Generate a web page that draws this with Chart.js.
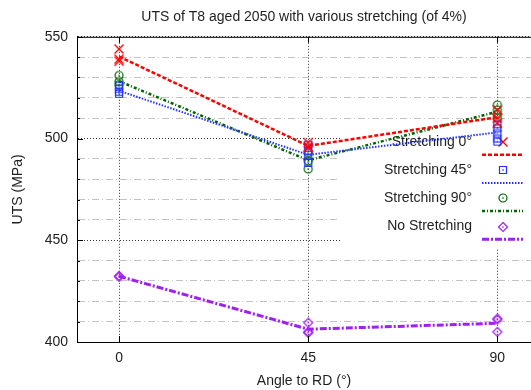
<!DOCTYPE html>
<html>
<head>
<meta charset="utf-8">
<title>UTS of T8 aged 2050</title>
<script src="https://cdn.jsdelivr.net/npm/chart.js@4.4.1/dist/chart.umd.min.js"></script>
<style>
    body { margin: 0; background: #fff; }
    #chart { display: block; }
</style>
</head>
<body>
<canvas id="chart" width="531" height="390"></canvas>
<script>
// Angles to RD (deg)
const angles = [0, 45, 90];

// Mean UTS (MPa) per series - drawn as lines
const uts0 = [540.3, 496.4, 510.5];
const uts45 = [523.5, 492.0, 503.0];
const uts90 = [528.2, 489.3, 513.2];
const utsNone = [432.3, 406.3, 409.2];

// Single measurements - drawn as points
const pts0X = [0, 0, 0, 45, 45, 45, 90, 90, 90];
const pts0Y = [544, 539, 538, 498, 496, 495.5, 514, 510, 507.5];
const pts45X = [0, 0, 0, 0, 45, 45, 45, 45, 90, 90, 90, 90, 90];
const pts45Y = [526, 524.5, 523, 522, 497, 494, 492, 488, 507, 505, 502.5, 500, 498.5];
const pts90X = [0, 0, 0, 45, 45, 45, 90, 90, 90, 90];
const pts90Y = [531, 528, 526.5, 493, 489, 485, 516.5, 514, 512, 510];
const ptsNoneX = [0, 0, 45, 45, 45, 90, 90, 90];
const ptsNoneY = [432.5, 432, 409.5, 404.5, 405, 411.5, 411, 405];

const yTicksMajor = [400, 450, 500, 550];

const fam = '"Liberation Sans", Arial, Helvetica, sans-serif';
const textColor = '#1e1e1e';

// small point symbols like gnuplot (with a dot in the middle)
function makeSymbol(kind, color) {
    const c = document.createElement('canvas');
    c.width = 12;
    c.height = 12;
    const g = c.getContext('2d');
    g.strokeStyle = color;
    g.fillStyle = color;
    g.lineWidth = 1.2;
    g.beginPath();
    if (kind === 'cross') {
        g.lineWidth = 1.4;
        g.moveTo(1.5, 1.5); g.lineTo(10.5, 10.5);
        g.moveTo(10.5, 1.5); g.lineTo(1.5, 10.5);
        g.stroke();
        return c;
    }
    if (kind === 'square') {
        g.rect(2.5, 2.5, 7, 7);
    } else if (kind === 'circle') {
        g.arc(6, 6, 4, 0, Math.PI * 2);
    } else if (kind === 'diamond') {
        g.moveTo(6, 1.5); g.lineTo(10.5, 6); g.lineTo(6, 10.5); g.lineTo(1.5, 6); g.closePath();
    }
    g.stroke();
    g.fillRect(5.3, 5.3, 1.4, 1.4);
    return c;
}

const series = [
    { label: 'Stretching 0°', line: uts0, px: pts0X, py: pts0Y, color: '#ff0000', dash: [4, 2], width: 2.5, sym: 'cross' },
    { label: 'Stretching 45°', line: uts45, px: pts45X, py: pts45Y, color: '#2233ff', dash: [1.5, 1.5], width: 2, sym: 'square' },
    { label: 'Stretching 90°', line: uts90, px: pts90X, py: pts90Y, color: '#006400', dash: [3, 2, 1, 2], width: 2.5, sym: 'circle' },
    { label: 'No Stretching', line: utsNone, px: ptsNoneX, py: ptsNoneY, color: '#a020f0', dash: [7, 2, 2, 2], width: 3, sym: 'diamond' }
];

const datasets = [];
series.forEach(s => {
    s.img = makeSymbol(s.sym, s.color);
    datasets.push({
        label: s.label,
        data: angles.map((a, i) => ({ x: a, y: s.line[i] })),
        showLine: true,
        borderColor: s.color,
        borderDash: s.dash,
        borderWidth: s.width,
        pointRadius: 0,
        fill: false,
        isLegend: true,
        symbol: s.img
    });
    datasets.push({
        label: s.label + ' points',
        data: s.px.map((x, i) => ({ x: x, y: s.py[i] })),
        showLine: false,
        pointStyle: s.img,
        pointRadius: 5
    });
});

function isMajor(v) {
    return yTicksMajor.indexOf(v) !== -1;
}

// white key box with text, symbol and line sample (drawn under the data lines)
const keyBox = {
    id: 'keyBox',
    beforeDatasetsDraw(chart) {
        const c = chart.ctx;
        c.save();
        c.fillStyle = '#fff';
        c.fillRect(340, 128, 191, 120);
        c.font = '14px ' + fam;
        c.textAlign = 'right';
        c.textBaseline = 'middle';
        let row = 0;
        chart.data.datasets.forEach(ds => {
            if (!ds.isLegend) return;
            const y = 142 + row * 28.2;
            c.fillStyle = textColor;
            c.fillText(ds.label, 472, y);
            c.drawImage(ds.symbol, 503 - 6, Math.round(y) - 6);
            c.strokeStyle = ds.borderColor;
            c.lineWidth = ds.borderWidth;
            c.setLineDash(ds.borderDash);
            c.beginPath();
            c.moveTo(482, y + 12.7);
            c.lineTo(523, y + 12.7);
            c.stroke();
            c.setLineDash([]);
            row++;
        });
        c.restore();
    }
};

// top border and inward tick marks like gnuplot
const frame = {
    id: 'frame',
    afterDraw(chart) {
        const c = chart.ctx;
        const a = chart.chartArea;
        const xs = chart.scales.x;
        const ys = chart.scales.y;
        c.save();
        c.strokeStyle = '#000';
        c.lineWidth = 1;
        c.beginPath();
        c.moveTo(a.left, a.top + 0.5);
        c.lineTo(a.right, a.top + 0.5);
        angles.forEach(v => {
            const x = Math.round(xs.getPixelForValue(v)) + 0.5;
            c.moveTo(x, a.bottom);
            c.lineTo(x, a.bottom - 6);
            c.moveTo(x, a.top);
            c.lineTo(x, a.top + 6);
        });
        ys.ticks.forEach(t => {
            const y = Math.round(ys.getPixelForValue(t.value)) + 0.5;
            const len = isMajor(t.value) ? 6 : 3;
            c.moveTo(a.left, y);
            c.lineTo(a.left + len, y);
        });
        c.stroke();
        c.restore();
    }
};

var ctx = document.getElementById('chart').getContext('2d');
var utsChart = new Chart(ctx, {
    type: 'scatter',
    data: { datasets: datasets },
    options: {
        responsive: false,
        animation: false,
        events: [],
        layout: { padding: 0, autoPadding: false },
        plugins: {
            legend: { display: false },
            tooltip: { enabled: false },
            title: {
                display: true,
                fullSize: false,
                text: 'UTS of T8 aged 2050 with various stretching (of 4%)',
                color: textColor,
                font: { family: fam, size: 14, weight: 'normal' },
                padding: { top: 9, bottom: 11 }
            }
        },
        scales: {
            x: {
                type: 'linear',
                min: -10,
                max: 98,
                afterBuildTicks: s => { s.ticks = angles.map(v => ({ value: v })); },
                afterFit: s => {
                    s.height = 48;
                    s.paddingLeft = 0;
                    s.paddingRight = 0;
                },
                grid: { color: '#333', lineWidth: 1, drawTicks: false },
                border: { color: '#000', width: 1, dash: [1, 2] },
                ticks: {
                    color: textColor,
                    font: { family: fam, size: 14 },
                    padding: 8,
                    maxRotation: 0
                },
                title: {
                    display: true,
                    text: 'Angle to RD (°)',
                    color: textColor,
                    font: { family: fam, size: 14 },
                    padding: { top: 0, bottom: 0 }
                }
            },
            y: {
                min: 400,
                max: 550,
                afterFit: s => { s.width = 77; },
                grid: {
                    color: c => (c.tick && isMajor(c.tick.value)) ? '#333' : '#c4c4c4',
                    lineWidth: 1,
                    drawTicks: false
                },
                border: {
                    color: '#000',
                    width: 1,
                    dash: c => (c.tick && !isMajor(c.tick.value)) ? [7, 3, 1, 3] : [1, 2]
                },
                ticks: {
                    stepSize: 10,
                    autoSkip: false,
                    color: textColor,
                    font: { family: fam, size: 14 },
                    padding: 9,
                    callback: v => isMajor(v) ? v : ''
                },
                title: {
                    display: true,
                    text: 'UTS (MPa)',
                    color: textColor,
                    font: { family: fam, size: 14 },
                    padding: { top: 10, bottom: 0 }
                }
            }
        }
    },
    plugins: [keyBox, frame]
});
</script>
</body>
</html>
